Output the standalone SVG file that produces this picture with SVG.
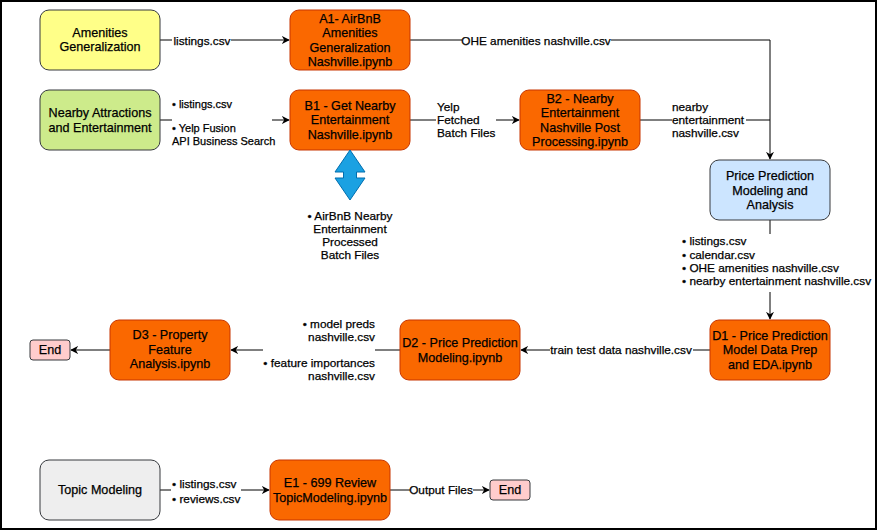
<svg xmlns="http://www.w3.org/2000/svg" width="881" height="531" viewBox="0 0 881 531">
<defs>
<style>
.n{stroke-width:1}
.or{fill:#fa6800;stroke:#c73500}
.gr{stroke:#36393d}
text{font-family:"Liberation Sans",Arial,sans-serif;fill:#000;stroke:#000;stroke-width:0.25}
.t{font-size:12.6px;text-anchor:middle;dominant-baseline:central}
.l{font-size:11.8px;dominant-baseline:central}
.s{font-size:11px}
.c{text-anchor:middle}
.r{text-anchor:end}
.e{fill:none;stroke:#000;stroke-width:1}
.bg{fill:#fff}
</style>
<marker id="ar" viewBox="0 0 10 10" refX="9" refY="5" markerWidth="8" markerHeight="8" markerUnits="userSpaceOnUse" orient="auto">
<path d="M0,0 L10,5 L0,10 L3,5 Z" fill="#000"/>
</marker>
</defs>
<rect x="1" y="1" width="875" height="528" fill="#fff" stroke="#000" stroke-width="2"/>

<g id="connectors">
<path class="e" d="M160,40 L289,40" marker-end="url(#ar)"/>
<path class="e" d="M410,40 L770,40 L770,159" marker-end="url(#ar)"/>
<path class="e" d="M160,120 L289,120" marker-end="url(#ar)"/>
<path class="e" d="M410,120 L519,120" marker-end="url(#ar)"/>
<path class="e" d="M640,120 L770,120"/>
<path class="e" d="M770,220 L770,319" marker-end="url(#ar)"/>
<path class="e" d="M710,350 L521,350" marker-end="url(#ar)"/>
<path class="e" d="M400,350 L231,350" marker-end="url(#ar)"/>
<path class="e" d="M110,350 L71,350" marker-end="url(#ar)"/>
<path class="e" d="M160,490 L269,490" marker-end="url(#ar)"/>
<path class="e" d="M390,490 L489,490" marker-end="url(#ar)"/>
<!-- labels -->
<rect class="bg" x="172" y="33" width="59" height="14"/>
<text class="l c" x="202" y="41">listings.csv</text>
<rect class="bg" x="462" y="33" width="149" height="14"/>
<text class="l c" x="536" y="41">OHE amenities nashville.csv</text>
<rect class="bg" x="172" y="97" width="100" height="49"/>
<text class="l s" x="172" y="104">• listings.csv</text>
<text class="l s" x="172" y="127.5">• Yelp Fusion</text>
<text class="l s" x="172" y="140.5">API Business Search</text>
<rect class="bg" x="436" y="100" width="60" height="40"/>
<text class="l" x="437" y="107">Yelp</text>
<text class="l" x="437" y="120">Fetched</text>
<text class="l" x="437" y="133">Batch Files</text>
<rect class="bg" x="672" y="100" width="74" height="40"/>
<text class="l" x="672" y="107">nearby</text>
<text class="l" x="672" y="120">entertainment</text>
<text class="l" x="672" y="133">nashville.csv</text>
<rect class="bg" x="680" y="234" width="195" height="58"/>
<text class="l" x="682" y="241">• listings.csv</text>
<text class="l" x="682" y="255">• calendar.csv</text>
<text class="l" x="682" y="268">• OHE amenities nashville.csv</text>
<text class="l" x="682" y="281">• nearby entertainment nashville.csv</text>
<rect class="bg" x="550" y="343" width="143" height="14"/>
<text class="l c" x="621" y="350">train test data nashville.csv</text>
<rect class="bg" x="263" y="317" width="112" height="66"/>
<text class="l r" x="375" y="324">• model preds</text>
<text class="l r" x="375" y="337">nashville.csv</text>
<text class="l r" x="375" y="363">• feature importances</text>
<text class="l r" x="375" y="376">nashville.csv</text>
<rect class="bg" x="171" y="477" width="70" height="30"/>
<text class="l" x="172" y="484">• listings.csv</text>
<text class="l" x="172" y="499">• reviews.csv</text>
<rect class="bg" x="410" y="483" width="63" height="14"/>
<text class="l c" x="441" y="490">Output Files</text>
</g>

<g id="amenities">
<rect class="n gr" x="40" y="10" width="120" height="60" rx="9" fill="#ffff88"/>
<text class="t" x="100" y="33">Amenities</text>
<text class="t" x="100" y="47">Generalization</text>
</g>
<g id="a1">
<rect class="n or" x="290" y="10" width="120" height="60" rx="9"/>
<text class="t" x="350" y="19">A1- AirBnB</text>
<text class="t" x="350" y="33">Amenities</text>
<text class="t" x="350" y="47.5">Generalization</text>
<text class="t" x="350" y="62">Nashville.ipynb</text>
</g>
<g id="nearby">
<rect class="n gr" x="40" y="90" width="120" height="60" rx="9" fill="#cdeb8b"/>
<text class="t" x="100" y="113">Nearby Attractions</text>
<text class="t" x="100" y="127.5">and Entertainment</text>
</g>
<g id="b1">
<rect class="n or" x="290" y="90" width="120" height="60" rx="9"/>
<text class="t" x="350" y="106">B1 - Get Nearby</text>
<text class="t" x="350" y="120">Entertainment</text>
<text class="t" x="350" y="134.5">Nashville.ipynb</text>
</g>
<g id="b2">
<rect class="n or" x="520" y="90" width="120" height="60" rx="9"/>
<text class="t" x="580" y="99">B2 - Nearby</text>
<text class="t" x="580" y="113">Entertainment</text>
<text class="t" x="580" y="127.5">Nashville Post</text>
<text class="t" x="580" y="142">Processing.ipynb</text>
</g>
<g id="batch">
<path d="M350,150 L365,172 L356.5,172 L356.5,178 L365,178 L350,200 L335,178 L343.5,178 L343.5,172 L335,172 Z" fill="#1ba1e2" stroke="#006eaf" stroke-width="1"/>
<text class="l c" x="350" y="216">• AirBnB Nearby</text>
<text class="l c" x="350" y="228.5">Entertainment</text>
<text class="l c" x="350" y="242">Processed</text>
<text class="l c" x="350" y="255">Batch Files</text>
</g>
<g id="price">
<rect class="n gr" x="710" y="160" width="120" height="60" rx="9" fill="#cce5ff"/>
<text class="t" x="770" y="176">Price Prediction</text>
<text class="t" x="770" y="190.5">Modeling and</text>
<text class="t" x="770" y="205">Analysis</text>
</g>
<g id="d1">
<rect class="n or" x="710" y="320" width="120" height="60" rx="9"/>
<text class="t" x="770" y="335.5">D1 - Price Prediction</text>
<text class="t" x="770" y="350">Model Data Prep</text>
<text class="t" x="770" y="364.5">and EDA.ipynb</text>
</g>
<g id="d2">
<rect class="n or" x="400" y="320" width="120" height="60" rx="9"/>
<text class="t" x="460" y="343">D2 - Price Prediction</text>
<text class="t" x="460" y="357.5">Modeling.ipynb</text>
</g>
<g id="d3">
<rect class="n or" x="110" y="320" width="120" height="60" rx="9"/>
<text class="t" x="170" y="335">D3 - Property</text>
<text class="t" x="170" y="349.5">Feature</text>
<text class="t" x="170" y="364">Analysis.ipynb</text>
</g>
<g id="end1">
<rect class="n gr" x="30" y="340" width="40" height="20" rx="3" fill="#ffcccc"/>
<text class="t" x="50" y="350">End</text>
</g>
<g id="topic">
<rect class="n gr" x="40" y="460" width="120" height="60" rx="9" fill="#eeeeee"/>
<text class="t" x="100" y="490">Topic Modeling</text>
</g>
<g id="e1">
<rect class="n or" x="270" y="460" width="120" height="60" rx="9"/>
<text class="t" x="330" y="483">E1 - 699 Review</text>
<text class="t" x="330" y="497.5">TopicModeling.ipynb</text>
</g>
<g id="end2">
<rect class="n gr" x="490" y="480" width="40" height="20" rx="3" fill="#ffcccc"/>
<text class="t" x="510" y="490">End</text>
</g>
</svg>
